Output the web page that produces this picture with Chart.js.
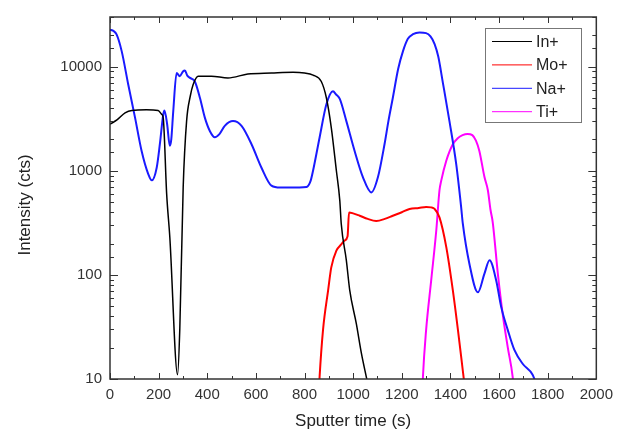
<!DOCTYPE html>
<html>
<head>
<meta charset="utf-8">
<script src="https://cdn.jsdelivr.net/npm/chart.js@4/dist/chart.umd.min.js"></script>
<style>
  html, body { margin: 0; padding: 0; background: #fff; }
  #wrap { width: 620px; height: 432px; }
</style>
</head>
<body>
<div id="wrap"><canvas id="depth-profile"></canvas></div>
<script>
// values (time in s, intensity in cts)
const inTime = [0, 30, 62, 90, 150, 198, 212, 219, 233, 246, 278, 287, 301, 315, 330, 342, 363, 417, 485, 567, 664, 753, 800, 835, 869, 890, 910, 931, 945, 951, 972, 986, 1013, 1034, 1054, 1065];
const inCounts = [2800, 3100, 3600, 3800, 3850, 3800, 3500, 3200, 600, 230, 11, 30, 700, 3000, 5200, 6750, 8100, 8100, 7800, 8500, 8700, 8850, 8700, 8300, 7200, 5000, 2600, 1000, 520, 310, 138, 71, 34, 17.6, 10.5, 8];

const moTime = [855, 862, 876, 897, 910, 931, 950, 965, 977, 983, 1000, 1027, 1060, 1095, 1130, 1163, 1200, 1232, 1270, 1300, 1320, 1335, 1355, 1383, 1410, 1431, 1451, 1460];
const moCounts = [5, 10.5, 29.5, 71, 118, 171, 195, 214, 235, 398, 390, 370, 345, 330, 345, 370, 400, 430, 440, 450, 445, 430, 357, 185, 71, 29.5, 12, 8];

const naTime = [0, 15, 27, 48, 75, 103, 130, 157, 172, 192, 205, 219, 224, 235, 246, 252, 260, 274, 287, 300, 308, 318, 329, 349, 370, 390, 411, 431, 450, 472, 506, 541, 582, 623, 664, 700, 739, 808, 825, 835, 862, 890, 917, 930, 945, 972, 1006, 1040, 1075, 1102, 1129, 1145, 1163, 1185, 1205, 1225, 1246, 1273, 1300, 1318, 1335, 1350, 1369, 1396, 1424, 1444, 1451, 1478, 1513, 1540, 1561, 1588, 1609, 1636, 1663, 1697, 1738, 1760];
const naCounts = [22700, 22000, 20400, 14100, 6750, 3240, 1550, 935, 810, 1070, 1800, 3470, 3800, 2800, 1740, 2000, 3700, 8700, 8100, 9000, 9200, 8200, 7800, 7200, 5000, 3240, 2400, 2100, 2250, 2700, 3000, 2700, 1800, 1070, 720, 690, 690, 700, 800, 1000, 2090, 4350, 5800, 5400, 4900, 3000, 1550, 870, 620, 870, 1800, 3000, 5000, 9500, 14100, 18500, 20500, 21300, 21000, 19500, 16500, 12500, 7000, 3000, 1150, 450, 310, 128, 68, 103, 138, 89, 49, 29.5, 19, 14, 11, 8];

const tiTime = [1282, 1287, 1300, 1321, 1342, 1355, 1362, 1383, 1410, 1430, 1450, 1470, 1490, 1505, 1519, 1540, 1554, 1565, 1574, 1595, 1615, 1636, 1656, 1665];
const tiCounts = [5, 10.5, 29.5, 89, 270, 650, 800, 1250, 1800, 2050, 2200, 2260, 2200, 1950, 1550, 870, 650, 420, 320, 103, 42, 20, 10.5, 6];

const seriesLabels = ['In+', 'Mo+', 'Na+', 'Ti+'];
const seriesColors = ['#000000', '#ff0000', '#1a1aff', '#ff00ff'];
const yLabelValues = [10, 100, 1000, 10000];

function toPoints(times, counts) {
  return times.map((t, i) => ({ x: t, y: counts[i] }));
}

Chart.defaults.font.family = '"Liberation Sans", Arial, sans-serif';

// frame + inward tick marks on all four sides, the y title and the boxed legend
const framePlugin = {
  id: 'frame',
  afterDraw(chart) {
    const { ctx, chartArea: a, scales } = chart;
    ctx.save();
    ctx.strokeStyle = '#333';
    ctx.lineWidth = 1;
    scales.x.ticks.forEach((t) => {
      const px = Math.round(scales.x.getPixelForValue(t.value)) + 0.5;
      const len = t.value % 200 === 0 ? 6 : 3;
      ctx.beginPath();
      ctx.moveTo(px, a.bottom); ctx.lineTo(px, a.bottom - len);
      ctx.moveTo(px, a.top); ctx.lineTo(px, a.top + len);
      ctx.stroke();
    });
    scales.y.ticks.forEach((t) => {
      const py = Math.round(scales.y.getPixelForValue(t.value)) + 0.5;
      const major = Math.abs(Math.log10(t.value) - Math.round(Math.log10(t.value))) < 1e-9;
      const len = major ? 8 : 4;
      ctx.beginPath();
      ctx.moveTo(a.left, py); ctx.lineTo(a.left + len, py);
      ctx.moveTo(a.right, py); ctx.lineTo(a.right - len, py);
      ctx.stroke();
    });
    ctx.lineWidth = 1.5;
    ctx.strokeRect(a.left, a.top, a.right - a.left, a.bottom - a.top);

    // y axis title
    ctx.fillStyle = '#222';
    ctx.font = '17px "Liberation Sans", Arial, sans-serif';
    ctx.textAlign = 'center';
    ctx.textBaseline = 'middle';
    ctx.translate(25, 205);
    ctx.rotate(-Math.PI / 2);
    ctx.fillText('Intensity (cts)', 0, 0);
    ctx.restore();

    // legend box
    ctx.save();
    ctx.fillStyle = '#fff';
    ctx.fillRect(485, 28, 97, 95);
    ctx.strokeStyle = '#777';
    ctx.lineWidth = 1;
    ctx.strokeRect(485.5, 28.5, 96, 94);
    ctx.font = '16px "Liberation Sans", Arial, sans-serif';
    ctx.textAlign = 'left';
    ctx.textBaseline = 'middle';
    chart.data.datasets.forEach((ds, i) => {
      const y = 41.5 + i * 23.4;
      ctx.strokeStyle = ds.borderColor;
      ctx.lineWidth = 1;
      ctx.beginPath();
      ctx.moveTo(492, y); ctx.lineTo(532, y);
      ctx.stroke();
      ctx.fillStyle = '#222';
      ctx.fillText(ds.label, 536, y + 1);
    });
    ctx.restore();
  },
};

const datasets = [
  toPoints(inTime, inCounts),
  toPoints(moTime, moCounts),
  toPoints(naTime, naCounts),
  toPoints(tiTime, tiCounts),
].map((pts, i) => ({
  label: seriesLabels[i],
  data: pts,
  borderColor: seriesColors[i],
  backgroundColor: seriesColors[i],
  borderWidth: i === 0 ? 1.5 : 2,
  pointRadius: 0,
  cubicInterpolationMode: 'monotone',
}));

const config = {
  type: 'line',
  data: { datasets: datasets },
  options: {
    responsive: true,
    maintainAspectRatio: false,
    animation: false,
    layout: { padding: { top: 16, right: 22, left: 0, bottom: 0 } },
    plugins: {
      legend: { display: false },
      tooltip: { enabled: false },
    },
    scales: {
      x: {
        type: 'linear',
        min: 0,
        max: 2000,
        grid: { display: false, drawTicks: false },
        border: { display: false },
        ticks: {
          stepSize: 100,
          autoSkip: false,
          maxRotation: 0,
          padding: 7,
          color: '#333',
          font: { size: 15 },
          callback: (v) => (v % 200 === 0 ? String(v) : ''),
        },
        title: {
          display: true,
          text: 'Sputter time (s)',
          color: '#222',
          font: { size: 17 },
          padding: 0,
        },
        afterFit: (scale) => { scale.height = 53; },
      },
      y: {
        type: 'logarithmic',
        min: 10,
        max: 30000,
        grid: { display: false, drawTicks: false },
        border: { display: false },
        ticks: {
          autoSkip: false,
          padding: 8,
          color: '#333',
          font: { size: 15 },
          callback: (v) => (yLabelValues.includes(v) ? String(v) : ''),
        },
        afterFit: (scale) => { scale.width = 110; },
      },
    },
  },
  plugins: [framePlugin],
};

const profileChart = new Chart(document.getElementById('depth-profile'), config);
</script>
</body>
</html>
